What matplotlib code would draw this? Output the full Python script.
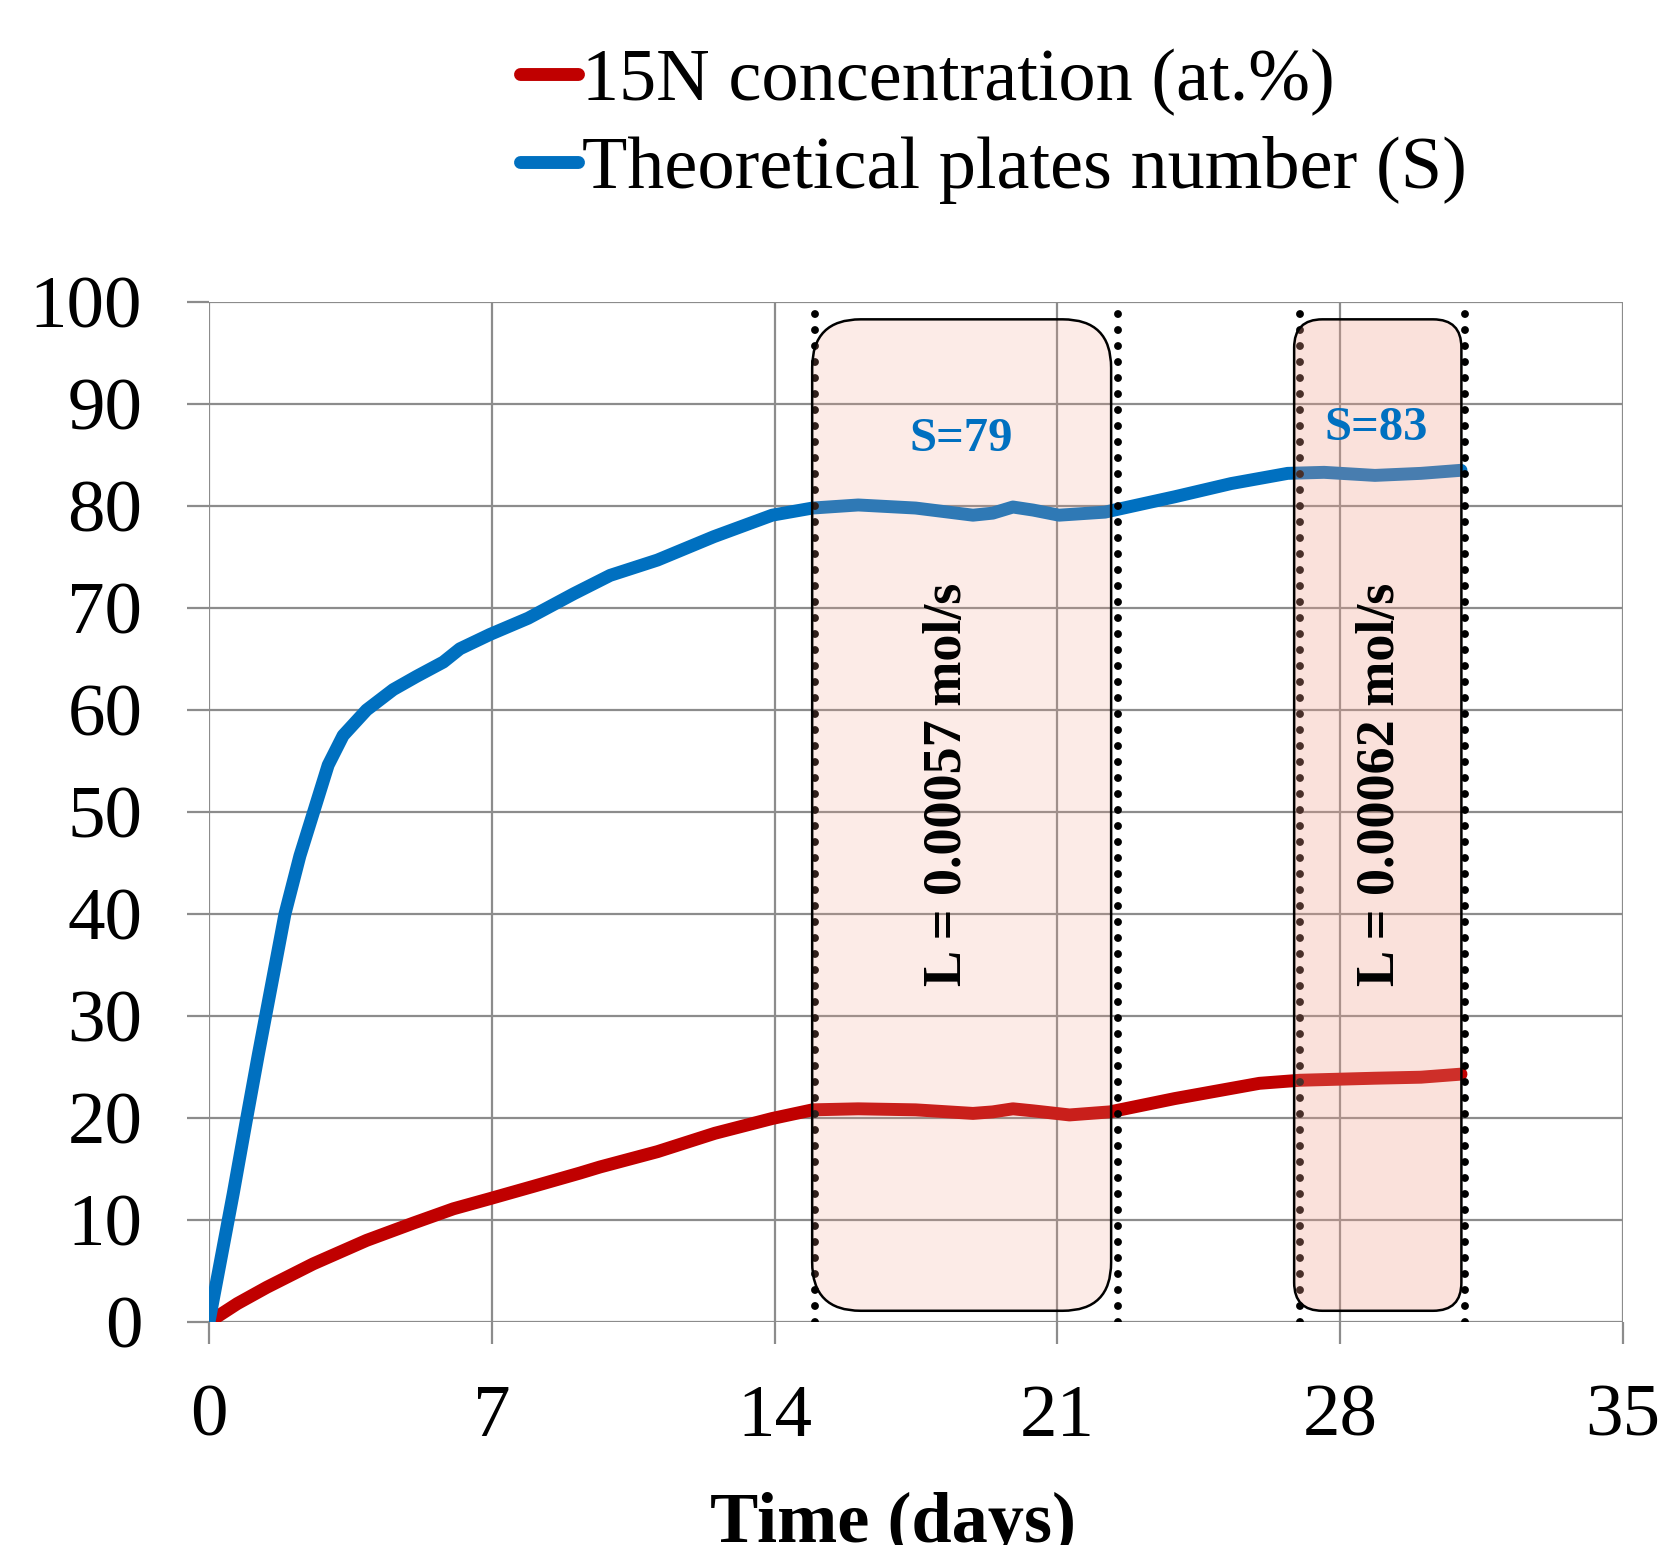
import matplotlib
matplotlib.use("Agg")
import matplotlib.pyplot as plt
from matplotlib.patches import FancyBboxPatch
from matplotlib.lines import Line2D

plt.rcParams['font.family'] = ['Liberation Serif', 'DejaVu Serif']

# ---- data ----
days_S = [0, 0.6, 0.93, 1.22, 1.55, 1.88, 2.25, 2.62, 2.95, 3.32, 3.9, 4.56, 5.14, 5.8,
          6.21, 6.95, 7.9, 9.03, 9.93, 11.1, 12.5, 13.94, 14.94, 16.07, 17.49, 18.91,
          19.4, 19.9, 20.4, 21.04, 22.18, 23.9, 25.3, 26.7, 27.6, 28.86, 30.0, 30.99]
plates_S = [0, 12.6, 19.9, 26.2, 33.1, 40.0, 45.7, 50.4, 54.6, 57.5, 60.0, 62.0, 63.3, 64.7,
            66.0, 67.4, 69.0, 71.4, 73.2, 74.7, 77.0, 79.1, 79.8, 80.1, 79.8, 79.1,
            79.3, 79.9, 79.6, 79.1, 79.4, 80.9, 82.2, 83.2, 83.3, 83.0, 83.2, 83.5]
days_N = [0, 0.7, 1.43, 2.58, 3.9, 5.06, 6.05, 6.96, 8.03, 9.18, 9.68, 11.1, 12.52, 13.94, 14.94,
          16.07, 17.49, 18.91, 19.4, 19.9, 20.4, 21.3, 22.3, 23.9, 26.0, 27.0, 28.86, 30.0, 30.99]
n15_conc = [0, 1.8, 3.4, 5.7, 8.0, 9.7, 11.1, 12.1, 13.3, 14.6, 15.2, 16.7, 18.5, 19.95, 20.8,
            20.9, 20.8, 20.45, 20.6, 20.9, 20.7, 20.3, 20.6, 21.9, 23.4, 23.7, 23.9, 24.0, 24.3]
series_labels = ["15N concentration (at.%)", "Theoretical plates number (S)"]
x_ticks = [0, 7, 14, 21, 28, 35]
y_ticks = [0, 10, 20, 30, 40, 50, 60, 70, 80, 90, 100]
region_bounds = [(15.0, 22.5), (27.0, 31.1)]
region_S = ["S=79", "S=83"]
region_L = ["L = 0.00057 mol/s", "L = 0.00062 mol/s"]

RED = "#C00000"
BLUE = "#0070C0"
GRID = "#8c8c8c"
LW = 9.3

fig = plt.figure(figsize=(16.66, 15.45), dpi=100)
ax = fig.add_axes([209/1666, 1 - 1322/1545, (1623-209)/1666, (1322-302)/1545])
ax.set_xlim(0, 35)
ax.set_ylim(0, 100)
ax.set_xticks(x_ticks)
ax.set_yticks(y_ticks)
ax.grid(True, color=GRID, lw=1.6, zorder=0)
for s in ax.spines.values():
    s.set_visible(False)
ax.tick_params(axis='both', length=16, width=1.6, color=GRID, labelsize=54)
ax.tick_params(axis='y', pad=32)
ax.tick_params(axis='x', pad=29)

# curves
ax.plot(days_N, n15_conc, color=RED, lw=LW, solid_capstyle='round',
        solid_joinstyle='round', zorder=3)
ax.plot(days_S, plates_S, color=BLUE, lw=LW, solid_capstyle='round',
        solid_joinstyle='round', zorder=3)

# dotted vertical lines
for (a, b) in region_bounds:
    for xv in (a, b):
        ax.plot([xv, xv], [0, 99.2], color='black', lw=5.7,
                linestyle=(0, (0.001, 2.02)), dash_capstyle='round', zorder=4)

# rounded boxes
aspect = (1414/35) / (1020/100)
boxes = [((14.93, 1.1), 22.33 - 14.93, 98.3 - 1.1, 1.2, (240/255, 158/255, 138/255, 0.2)),
         ((26.86, 1.1), 31.0 - 26.86, 98.3 - 1.1, 0.7, (240/255, 158/255, 138/255, 0.3))]
for (xy, w, h, r, fc) in boxes:
    p = FancyBboxPatch(xy, w, h, boxstyle=f"round,pad=0,rounding_size={r}",
                       mutation_aspect=aspect, facecolor=fc, edgecolor='none', zorder=5)
    ax.add_patch(p)
    pe = FancyBboxPatch(xy, w, h, boxstyle=f"round,pad=0,rounding_size={r}",
                        mutation_aspect=aspect, facecolor='none', edgecolor='black',
                        lw=1.8, zorder=6)
    ax.add_patch(pe)

# annotations
ax.text(18.61, 86.6, region_S[0], color=BLUE, fontsize=35, fontweight='bold',
        ha='center', va='center', zorder=7)
ax.text(28.9, 87.6, region_S[1], color=BLUE, fontsize=35, fontweight='bold',
        ha='center', va='center', zorder=7)
ax.text(18.3, 52.7, region_L[0], color='black', fontsize=39, fontweight='bold',
        rotation=90, ha='center', va='center', zorder=7)
ax.text(29.0, 52.7, region_L[1], color='black', fontsize=39, fontweight='bold',
        rotation=90, ha='center', va='center', zorder=7)

# x label (clipped at bottom like reference)
fig.text(893/1666, 0.002, "Time (days)", fontsize=52, fontweight='bold',
         ha='center', va='baseline')

# legend
handles = [Line2D([], [], color=RED, lw=LW, solid_capstyle='round'),
           Line2D([], [], color=BLUE, lw=LW, solid_capstyle='round')]
fig.legend(handles, series_labels, loc='upper left', bbox_to_anchor=(520/1666, 1 - 48/1545),
           frameon=False, fontsize=53.5, handlelength=0.78, handletextpad=0.05,
           labelspacing=0.27, borderaxespad=0, borderpad=0)

fig.savefig("out.png", dpi=100)
